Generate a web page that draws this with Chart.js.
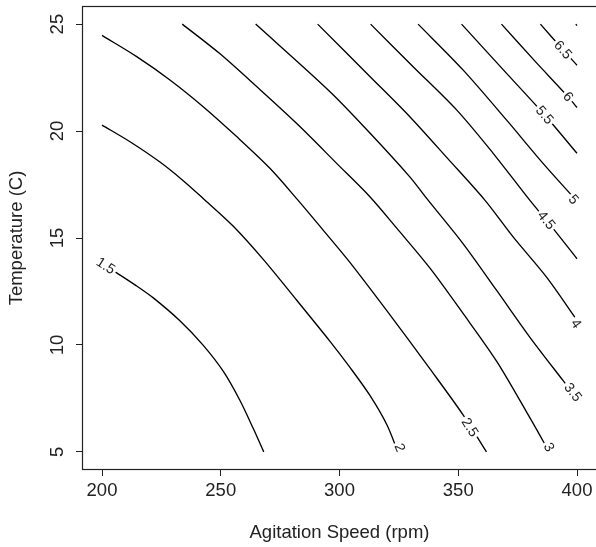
<!DOCTYPE html>
<html>
<head>
<meta charset="utf-8">
<script src="https://cdn.jsdelivr.net/npm/chart.js@4.4.1/dist/chart.umd.min.js"></script>
<style>
  body { margin: 0; background: #fff; }
  #chart { display: block; }
</style>
</head>
<body>
<canvas id="chart" width="596" height="547"></canvas>
<script>
// axis ticks
const xTicks = [200, 250, 300, 350, 400];
const yTicks = [5, 10, 15, 20, 25];

// contour lines (x = agitation speed, y = temperature)
const c15x = [200, 206.2, 213.9, 221.6, 232.8, 242.65, 251.1, 258.1, 263.7, 268.1];
const c15y = [13.81, 13.37, 12.81, 12.20, 11.13, 9.98, 8.76, 7.40, 6.09, 5.0];
const c20x = [200, 211.8, 224.4, 234.2, 242.7, 255.3, 267.9, 282.0, 296.0, 304.4, 312.8, 319.9, 324.6];
const c20y = [20.28, 19.50, 18.55, 17.68, 16.84, 15.55, 14.00, 12.09, 10.17, 8.95, 7.64, 6.28, 5.0];
const c25x = [200, 214.6, 228.6, 242.6, 256.7, 270.7, 282.5, 293.1, 304.3, 324.0, 338.1, 352.1, 361.9];
const c25y = [24.47, 23.48, 22.39, 21.14, 19.74, 18.26, 16.77, 15.37, 13.87, 11.00, 8.88, 6.72, 5.0];
const c30x = [233.8, 249.7, 265.1, 281.9, 298.8, 312.8, 324.1, 338.1, 352.1, 366.2, 380.8, 388.3];
const c30y = [25, 23.61, 22.08, 20.36, 18.49, 16.93, 15.46, 13.59, 11.46, 9.23, 6.47, 5.0];
const c35x = [264.7, 296.0, 312.8, 329.6, 337.3, 352.0, 366.1, 380.1, 394.1, 400];
const c35y = [25, 21.84, 19.91, 17.86, 16.77, 14.74, 12.56, 10.37, 8.34, 7.49];
const c40x = [290.8, 312.8, 329.6, 345.6, 361.2, 373.1, 387.1, 400];
const c40y = [25, 22.55, 20.67, 18.71, 16.77, 15.05, 13.18, 11.15];
const c45x = [313.1, 331.0, 349.3, 364.7, 380.1, 389.9, 400];
const c45y = [25, 23.01, 20.99, 18.96, 16.77, 15.45, 14.03];
const c50x = [333.1, 352.0, 370.3, 385.7, 400];
const c50y = [25, 22.86, 20.52, 18.49, 16.72];
const c55x = [351.4, 368.9, 386.4, 400];
const c55y = [25, 22.87, 20.75, 18.96];
const c60x = [368.2, 382.2, 396.2, 400];
const c60y = [25, 23.28, 21.61, 21.10];
const c65x = [384.6, 394.1, 400];
const c65y = [25, 23.80, 23.08];
const c70x = [399.5, 400];
const c70y = [25, 24.93];

// contour labels and where they sit
const levels = ["1.5", "2", "2.5", "3", "3.5", "4", "4.5", "5", "5.5", "6", "6.5", ""];
const labelX = [201.6, 325.4, 354.9, 388.2, 398.3, 399.6, 387.1, 398.6, 386.4, 396.2, 394.1, null];
const labelY = [13.7, 5.2, 6.15, 5.22, 7.79, 11.0, 15.83, 16.8, 20.75, 21.6, 23.8, null];

const contourX = [c15x, c20x, c25x, c30x, c35x, c40x, c45x, c50x, c55x, c60x, c65x, c70x];
const contourY = [c15y, c20y, c25y, c30y, c35y, c40y, c45y, c50y, c55y, c60y, c65y, c70y];

const FONT = '"Liberation Sans", Arial, Helvetica, sans-serif';
const INK = '#222';

const datasets = contourX.map((xs, i) => ({
  label: levels[i],
  data: xs.map((x, j) => ({ x: x, y: contourY[i][j] })),
  showLine: true,
  borderColor: '#000',
  borderWidth: 1.35,
  pointRadius: 0,
  tension: 0.3,
  fill: false
}));

// frame around the plot region (right side falls off the picture)
const boxPlugin = {
  id: 'box',
  afterDraw(chart) {
    const { ctx, chartArea } = chart;
    ctx.save();
    ctx.strokeStyle = INK;
    ctx.lineWidth = 1.2;
    ctx.strokeRect(chartArea.left - 0.5, chartArea.top - 0.5,
      chartArea.right - chartArea.left + 2, chartArea.bottom - chartArea.top + 1);
    ctx.restore();
  }
};

// rotated y tick labels, like R's default las=0
const yLabelPlugin = {
  id: 'yLabels',
  afterDraw(chart) {
    const { ctx } = chart;
    const ys = chart.scales.y;
    ctx.save();
    ctx.fillStyle = INK;
    ctx.font = '18.5px ' + FONT;
    ctx.textAlign = 'center';
    ctx.textBaseline = 'alphabetic';
    yTicks.forEach(v => {
      ctx.save();
      ctx.translate(62.5, ys.getPixelForValue(v));
      ctx.rotate(-Math.PI / 2);
      ctx.fillText(String(v), 0, 0);
      ctx.restore();
    });
    ctx.restore();
  }
};

// contour labels, drawn along the line with a gap under them
const contourLabelPlugin = {
  id: 'contourLabels',
  afterDatasetsDraw(chart) {
    const { ctx } = chart;
    const xs = chart.scales.x, ys = chart.scales.y;
    ctx.save();
    ctx.font = '14px ' + FONT;
    ctx.textAlign = 'center';
    ctx.textBaseline = 'middle';
    levels.forEach((txt, i) => {
      if (!txt || labelX[i] === null) return;
      const px = xs.getPixelForValue(labelX[i]);
      const py = ys.getPixelForValue(labelY[i]);
      // direction of the nearest segment
      const pts = contourX[i].map((x, j) => [xs.getPixelForValue(x), ys.getPixelForValue(contourY[i][j])]);
      let best = 0, bestD = Infinity;
      for (let j = 0; j < pts.length - 1; j++) {
        const mx = (pts[j][0] + pts[j + 1][0]) / 2, my = (pts[j][1] + pts[j + 1][1]) / 2;
        const d = (mx - px) ** 2 + (my - py) ** 2;
        if (d < bestD) { bestD = d; best = j; }
      }
      const ang = Math.atan2(pts[best + 1][1] - pts[best][1], pts[best + 1][0] - pts[best][0]);
      const w = ctx.measureText(txt).width;
      ctx.save();
      ctx.translate(px, py);
      ctx.rotate(ang);
      ctx.fillStyle = '#fff';
      ctx.fillRect(-w / 2 - 2, -6, w + 4, 12);
      ctx.fillStyle = INK;
      ctx.fillText(txt, 0, 0.5);
      ctx.restore();
    });
    ctx.restore();
  }
};

const gridOpts = {
  drawOnChartArea: false,
  drawTicks: true,
  tickLength: 7,
  tickColor: INK,
  lineWidth: 1
};

new Chart(document.getElementById('chart'), {
  type: 'scatter',
  data: { datasets: datasets },
  options: {
    responsive: false,
    animation: false,
    layout: { padding: { top: 7, right: 0, left: 0, bottom: 0 } },
    plugins: {
      legend: { display: false },
      tooltip: { enabled: false }
    },
    scales: {
      x: {
        type: 'linear',
        min: 192,
        max: 408,
        afterBuildTicks: s => { s.ticks = xTicks.map(v => ({ value: v })); },
        afterFit: s => { s.height = 78; },
        grid: gridOpts,
        border: { display: false },
        ticks: {
          autoSkip: false,
          maxRotation: 0,
          padding: 3.5,
          color: INK,
          font: { family: FONT, size: 18.5 },
          callback: v => String(v)
        },
        title: {
          display: true,
          text: 'Agitation Speed (rpm)',
          color: INK,
          font: { family: FONT, size: 18.5 },
          padding: { top: 0, bottom: 2.6 }
        }
      },
      y: {
        type: 'linear',
        min: 4.2,
        max: 25.8,
        afterBuildTicks: s => { s.ticks = yTicks.map(v => ({ value: v })); },
        afterFit: s => { s.width = 83; },
        grid: gridOpts,
        border: { display: false },
        ticks: { display: false },
        title: {
          display: true,
          text: 'Temperature (C)',
          color: INK,
          font: { family: FONT, size: 18.5 },
          padding: { top: 5.6, bottom: 0 }
        }
      }
    }
  },
  plugins: [boxPlugin, yLabelPlugin, contourLabelPlugin]
});
</script>
</body>
</html>
